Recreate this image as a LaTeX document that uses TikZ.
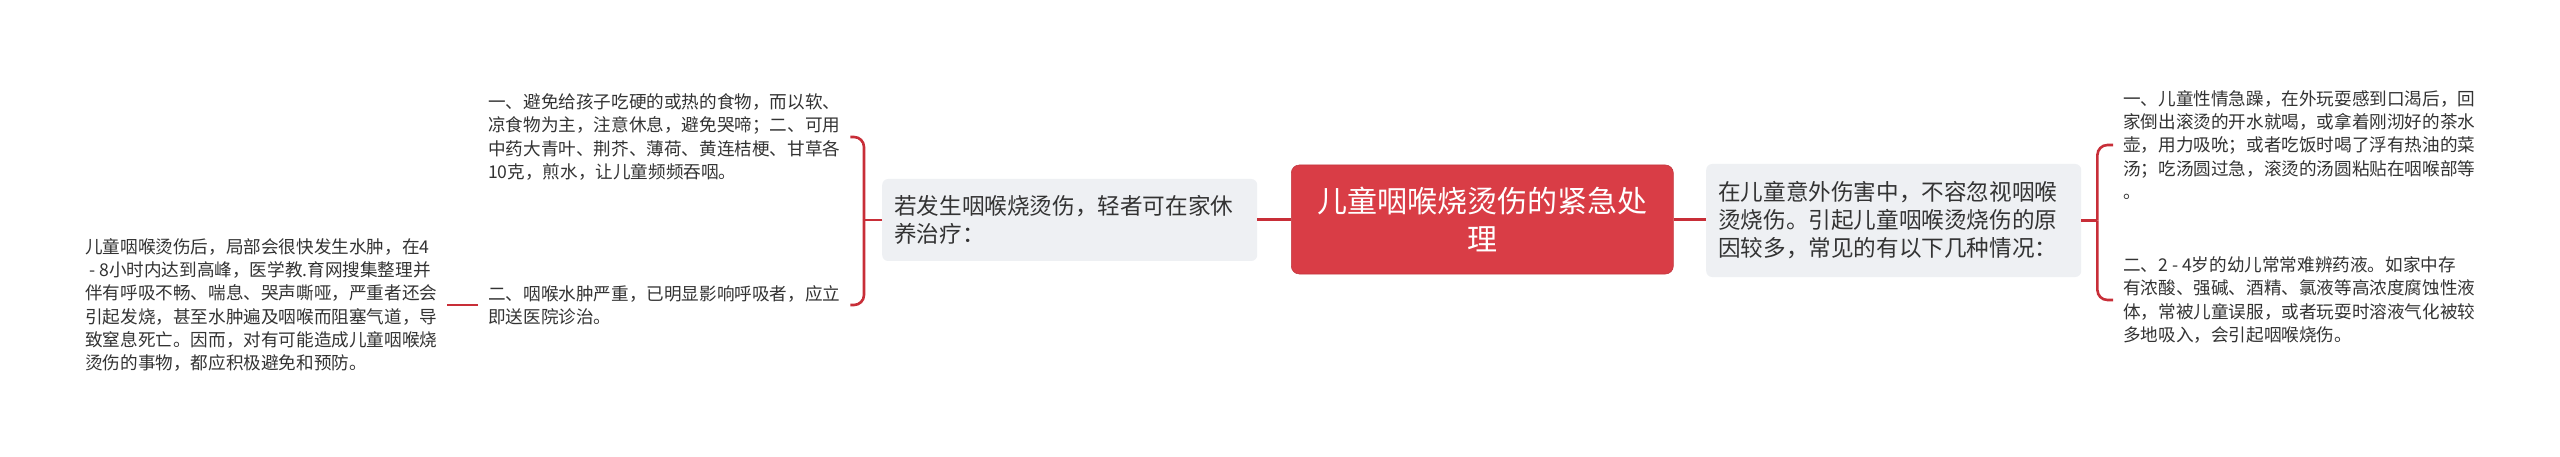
\documentclass[tikz,border=0pt]{standalone}
\usepackage{fontspec}
\newfontfamily\cjk{Noto Sans CJK SC}
\definecolor{linered}{RGB}{200,46,56}
\definecolor{rootred}{RGB}{217,61,70}
\definecolor{midgray}{RGB}{238,240,243}
\definecolor{txt}{RGB}{51,51,51}
\tikzset{
  conn/.style={draw=linered, line width=2.6pt},
  elbow/.style={conn, rounded corners=10pt},
  leaf/.style={anchor=west, inner xsep=10pt, inner ysep=0pt, align=left, text=txt,
    font=\cjk\fontsize{17.6pt}{23.3pt}\selectfont},
  midbox/.style={anchor=west, fill=midgray, rounded corners=6pt, text width=351pt,
    inner xsep=12pt, inner ysep=0pt, minimum height=#1, align=left, text=txt,
    font=\cjk\fontsize{22.6pt}{28pt}\selectfont},
  rootbox/.style={anchor=west, fill=rootred, draw=rootred!90!black, line width=0.6pt,
    rounded corners=8pt, text width=362pt, inner xsep=10pt, inner ysep=0pt,
    minimum height=109pt, align=center, text=white,
    font=\cjk\fontsize{30pt}{38pt}\selectfont}
}
\begin{document}
\begin{tikzpicture}[x=1pt,y=-1pt]
\useasboundingbox[fill=white] (0,0) rectangle (2560,457);

\node[rootbox] (root) at (1291,219.5) {儿童咽喉烧烫伤的紧急处\\理};

\node[midbox=82pt] (lmid) at (882,220) {若发生咽喉烧烫伤，轻者可在家休\\养治疗：};
\node[midbox=113pt] (rmid) at (1706,220.5) {在儿童意外伤害中，不容忽视咽喉\\烫烧伤。引起儿童咽喉烫烧伤的原\\因较多，常见的有以下几种情况：};

\node[leaf] (l1) at (478,137) {一、避免给孩子吃硬的或热的食物，而以软、\\凉食物为主，注意休息，避免哭啼；二、可用\\中药大青叶、荆芥、薄荷、黄连桔梗、甘草各\\10克，煎水，让儿童频频吞咽。};
\node[leaf] (l2) at (478,305) {二、咽喉水肿严重，已明显影响呼吸者，应立\\即送医院诊治。};
\node[leaf] (lt) at (75,305) {儿童咽喉烫伤后，局部会很快发生水肿，在4\\\hspace*{4pt}- 8小时内达到高峰，医学教.育网搜集整理并\\伴有呼吸不畅、喘息、哭声嘶哑，严重者还会\\引起发烧，甚至水肿遍及咽喉而阻塞气道，导\\致窒息死亡。因而，对有可能造成儿童咽喉烧\\烫伤的事物，都应积极避免和预防。};

\node[leaf] (r1) at (2113,145) {一、儿童性情急躁，在外玩耍感到口渴后，回\\家倒出滚烫的开水就喝，或拿着刚沏好的茶水\\壶，用力吸吮；或者吃饭时喝了浮有热油的菜\\汤；吃汤圆过急，滚烫的汤圆粘贴在咽喉部等\\。};
\node[leaf] (r2) at (2113,300) {二、2 - 4岁的幼儿常常难辨药液。如家中存\\有浓酸、强碱、酒精、氯液等高浓度腐蚀性液\\体，常被儿童误服，或者玩耍时溶液气化被较\\多地吸入，会引起咽喉烧伤。};

% root connectors
\draw[conn] (root.west) -- (lmid.east |- root.west);
\draw[conn] (root.east) -- (rmid.west |- root.east);

% left bracket
\coordinate (lj) at ([xshift=-18pt]lmid.west);
\draw[conn] (lmid.west) -- (lj);
\draw[elbow] (lj) |- (l1.east);
\draw[elbow] (lj) |- (l2.east);

% leftmost
\draw[conn] (l2.west) -- (lt.east);

% right bracket
\coordinate (rj) at ([xshift=16pt]rmid.east);
\draw[conn] (rmid.east) -- (rj);
\draw[elbow] (rj) |- (r1.west);
\draw[elbow] (rj) |- (r2.west);
\end{tikzpicture}
\end{document}
